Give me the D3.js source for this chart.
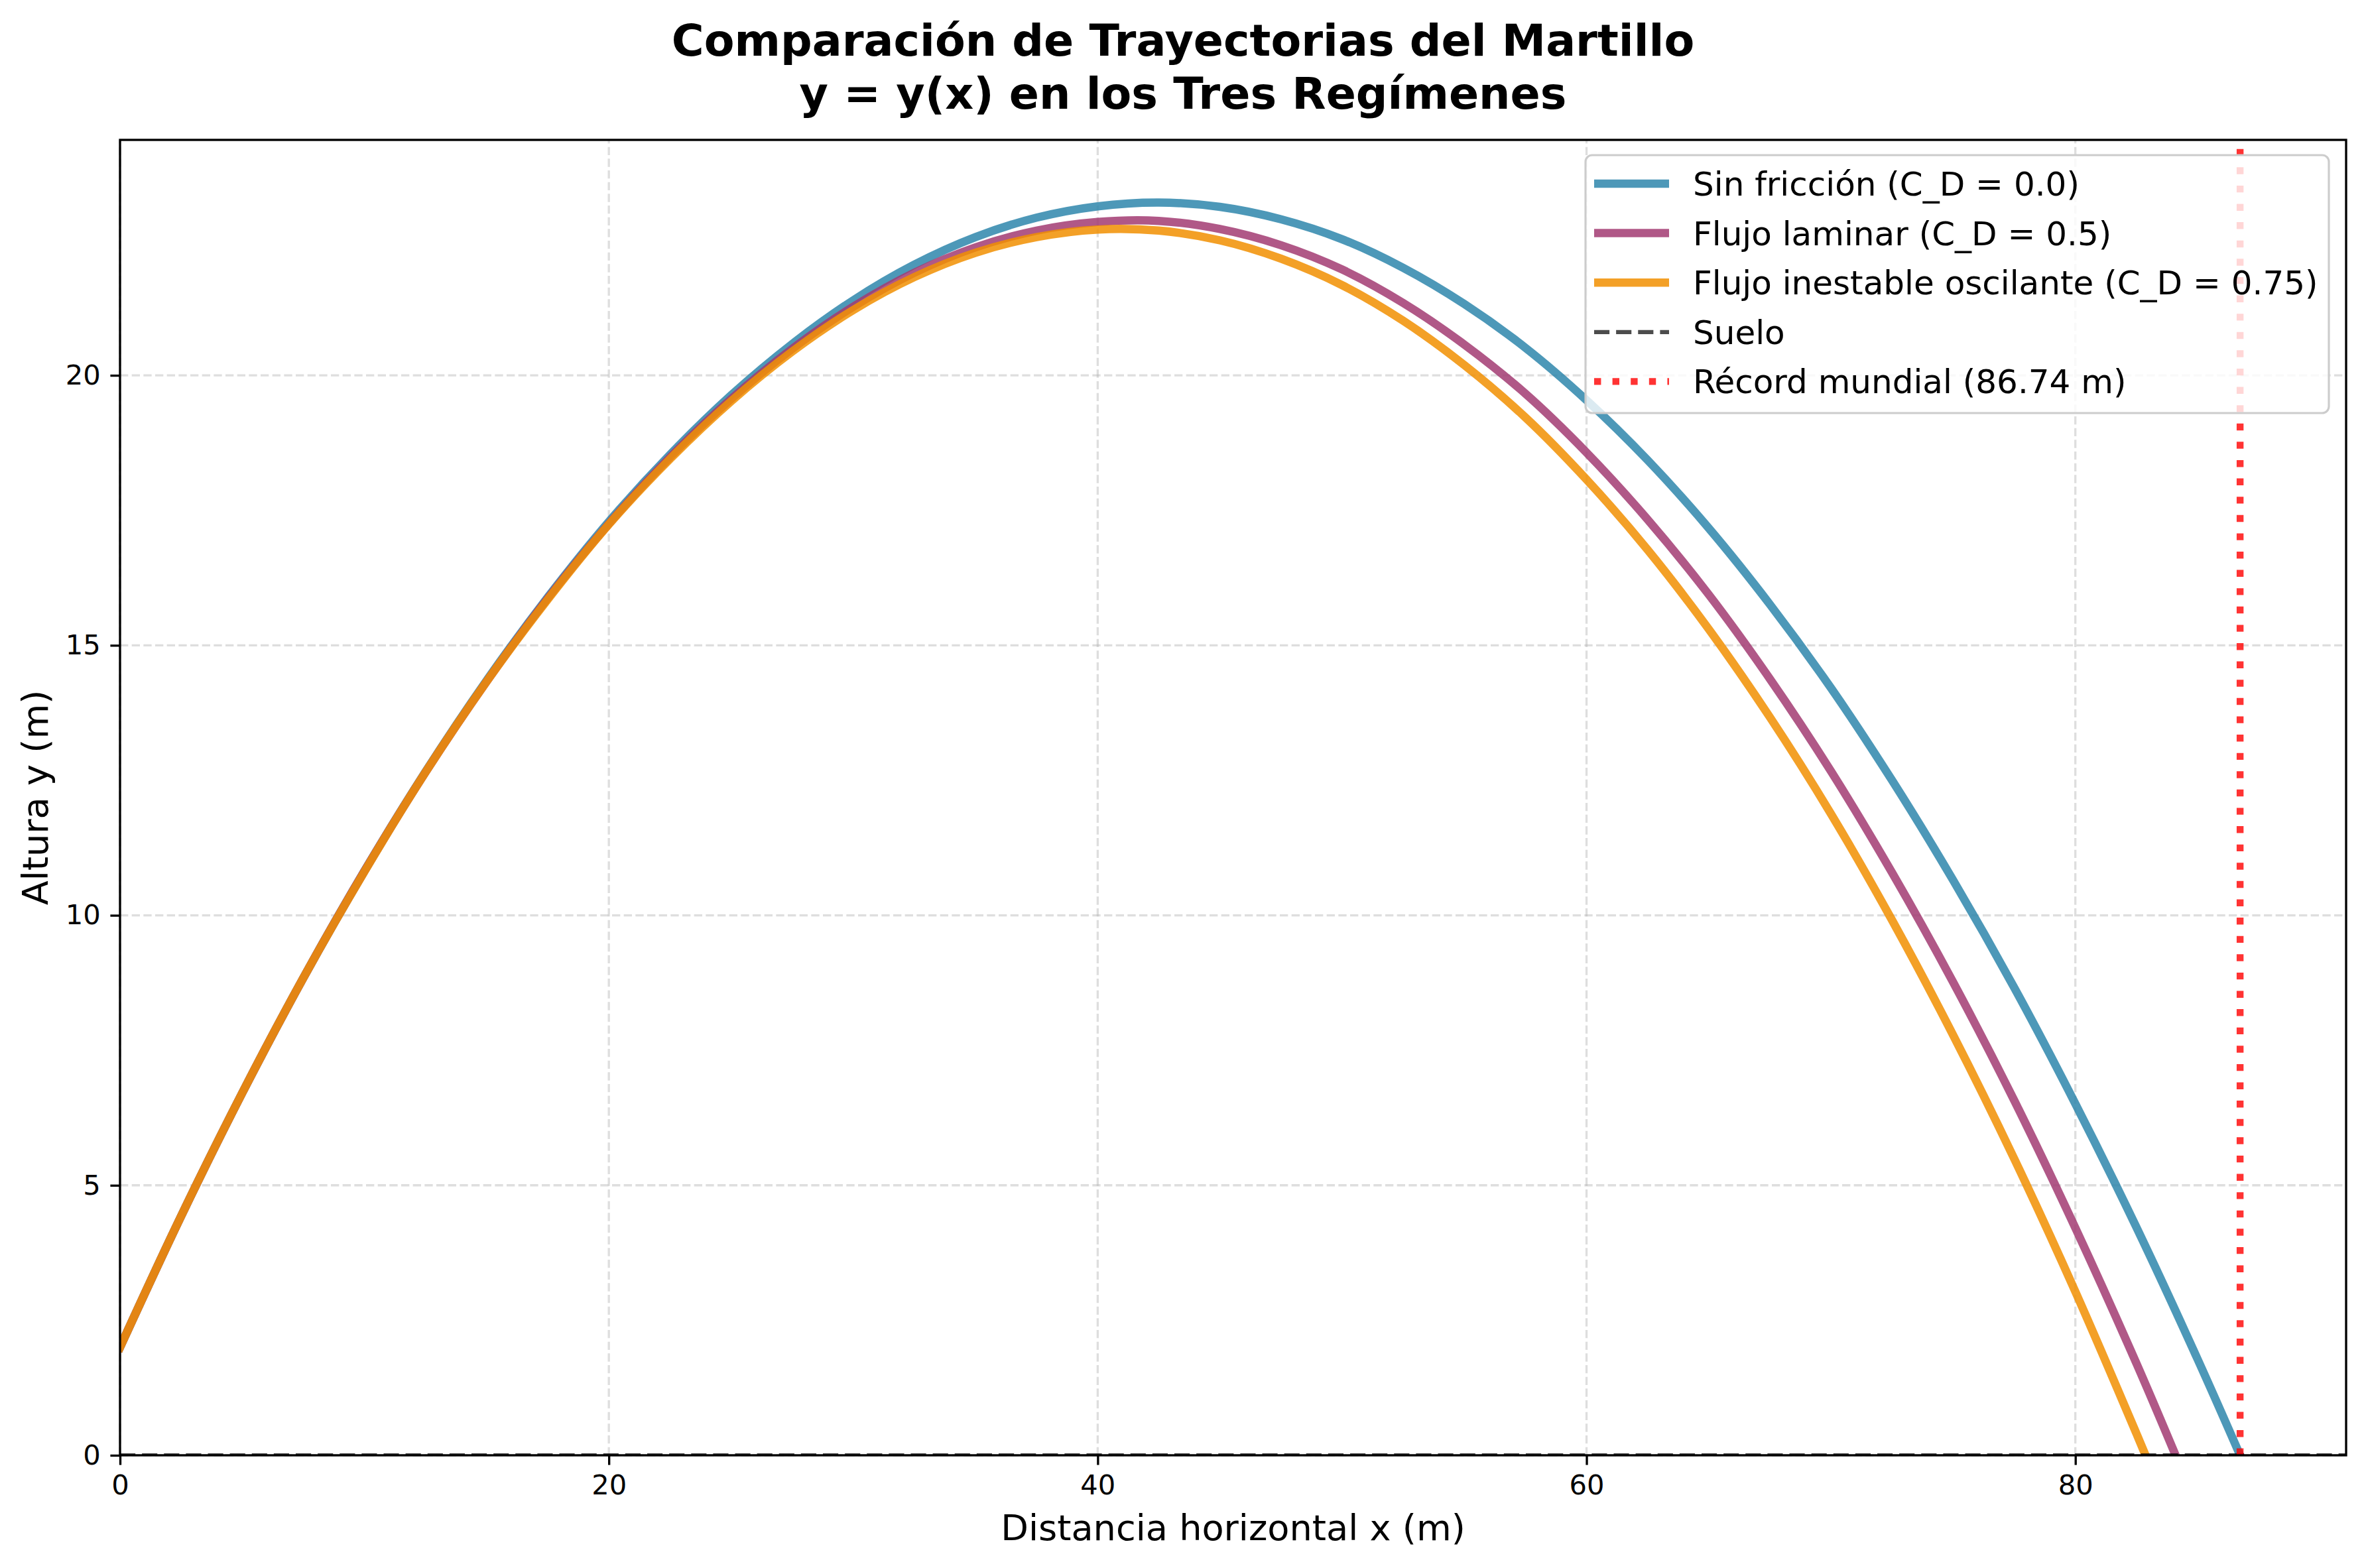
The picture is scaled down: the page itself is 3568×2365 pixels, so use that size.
<!DOCTYPE html>
<html>
<head>
<meta charset="utf-8">
<script src="https://cdn.jsdelivr.net/npm/d3@7"></script>
<style>
  body { margin: 0; background: #fff; }
  text { font-family: "DejaVu Sans", sans-serif; fill: #000; }
</style>
</head>
<body>
<svg id="chart" width="3568" height="2365"></svg>
<script>
// trajectory samples (metres)
var xSinFriccion = [0, 2.5, 5, 7.5, 10, 12.5, 15, 17.5, 20, 22.5, 25, 27.5, 30, 32.5, 35, 37.5, 40, 42.5, 45, 47.5, 50, 52.5, 55, 57.5, 60, 62.5, 65, 67.5, 70, 72.5, 75, 77.5, 80, 82.5, 85, 86.74]
var ySinFriccion = [2.00, 4.43, 6.71, 8.84, 10.82, 12.66, 14.35, 15.89, 17.29, 18.53, 19.63, 20.58, 21.39, 22.05, 22.56, 22.92, 23.13, 23.20, 23.12, 22.89, 22.52, 21.99, 21.32, 20.51, 19.54, 18.43, 17.17, 15.76, 14.21, 12.50, 10.65, 8.66, 6.51, 4.22, 1.78, 0.00]

var xLaminar = [0, 2.5, 5, 7.5, 10, 12.5, 15, 17.5, 20, 22.5, 25, 27.5, 30, 32.5, 35, 37.5, 40, 42.5, 45, 47.5, 50, 52.5, 55, 57.5, 60, 62.5, 65, 67.5, 70, 72.5, 75, 77.5, 80, 82.5, 84.1]
var yLaminar = [2.00, 4.43, 6.71, 8.84, 10.82, 12.65, 14.33, 15.87, 17.25, 18.48, 19.56, 20.49, 21.27, 21.90, 22.37, 22.68, 22.84, 22.86, 22.71, 22.41, 21.96, 21.34, 20.57, 19.66, 18.57, 17.33, 15.94, 14.38, 12.67, 10.79, 8.76, 6.57, 4.21, 1.70, 0.00]

var xOscilante = [0, 2.5, 5, 7.5, 10, 12.5, 15, 17.5, 20, 22.5, 25, 27.5, 30, 32.5, 35, 37.5, 40, 42.5, 45, 47.5, 50, 52.5, 55, 57.5, 60, 62.5, 65, 67.5, 70, 72.5, 75, 77.5, 80, 82.5, 82.87]
var yOscilante = [2.00, 4.43, 6.71, 8.84, 10.81, 12.65, 14.33, 15.85, 17.24, 18.45, 19.52, 20.44, 21.21, 21.82, 22.27, 22.56, 22.70, 22.68, 22.50, 22.16, 21.67, 21.01, 20.19, 19.22, 18.07, 16.77, 15.30, 13.67, 11.88, 9.91, 7.78, 5.49, 3.03, 0.40, 0.00]

var seriesLabels = ["Sin fricción (C_D = 0.0)", "Flujo laminar (C_D = 0.5)", "Flujo inestable oscilante (C_D = 0.75)"]
var seriesColors = ["#2E86AB", "#A23B72", "#F18F01"]
var recordMundial = 86.74
var xTicks = [0, 20, 40, 60, 80]
var yTicks = [0, 5, 10, 15, 20]

var svg = d3.select("#chart")
// plot box in pixels (window.top is read-only, so no bare "top")
var axL = 181, axR = 3538, axT = 211, axB = 2195
var pt = 300 / 72
var curveW = 3 * pt
var groundDash = (3.7 * 1.5 * pt) + "," + (1.6 * 1.5 * pt)
var recordDash = (2.5 * pt) + "," + (1.65 * 2.5 * pt)

var x = d3.scaleLinear().domain([0, recordMundial * 1.05]).range([axL, axR])
var y = d3.scaleLinear().domain([0, 23.2 * 1.05]).range([axB, axT])

svg.append("defs").append("clipPath").attr("id", "plotClip")
  .append("rect").attr("x", axL).attr("y", axT).attr("width", axR - axL).attr("height", axB - axT)

// grid
var grid = svg.append("g")
  .attr("stroke", "#b0b0b0").attr("stroke-opacity", 0.42)
  .attr("stroke-width", 0.8 * pt).attr("stroke-dasharray", (3.7 * 0.8 * pt) + "," + (1.6 * 0.8 * pt))
grid.selectAll("line.vx").data(xTicks).join("line").attr("class", "vx")
  .attr("x1", function(d) { return x(d) }).attr("x2", function(d) { return x(d) })
  .attr("y1", axB).attr("y2", axT)
grid.selectAll("line.hy").data(yTicks).join("line").attr("class", "hy")
  .attr("x1", axL).attr("x2", axR)
  .attr("y1", function(d) { return y(d) }).attr("y2", function(d) { return y(d) })

// trajectories
var plot = svg.append("g").attr("clip-path", "url(#plotClip)")
var line = d3.line()
  .x(function(d) { return x(d[0]) })
  .y(function(d) { return y(d[1]) })
  .curve(d3.curveCatmullRom.alpha(0.5))

var series = [
  d3.zip(xSinFriccion, ySinFriccion),
  d3.zip(xLaminar, yLaminar),
  d3.zip(xOscilante, yOscilante)
]
series.forEach(function(s, i) {
  plot.append("path").datum(s)
    .attr("d", line)
    .attr("fill", "none")
    .attr("stroke", seriesColors[i])
    .attr("stroke-opacity", 0.85)
    .attr("stroke-width", curveW)
    .attr("stroke-linecap", "square")
    .attr("stroke-linejoin", "round")
})

// suelo
plot.append("line")
  .attr("x1", axL).attr("x2", axR).attr("y1", y(0)).attr("y2", y(0))
  .attr("stroke", "#000").attr("stroke-opacity", 0.7)
  .attr("stroke-width", 1.5 * pt).attr("stroke-dasharray", groundDash)

// record line, drawn bottom to top so the dots start at the ground
plot.append("line")
  .attr("x1", x(recordMundial)).attr("x2", x(recordMundial)).attr("y1", axB).attr("y2", axT)
  .attr("stroke", "#FF0000").attr("stroke-opacity", 0.8)
  .attr("stroke-width", 2.5 * pt).attr("stroke-dasharray", recordDash)

// axes
var xAxis = d3.axisBottom(x).tickValues(xTicks).tickSize(3.5 * pt).tickPadding(3.5 * pt).tickFormat(d3.format("d"))
var yAxis = d3.axisLeft(y).tickValues(yTicks).tickSize(3.5 * pt).tickPadding(3.5 * pt).tickFormat(d3.format("d"))

var gx = svg.append("g").attr("transform", "translate(0," + axB + ")").call(xAxis)
var gy = svg.append("g").attr("transform", "translate(" + axL + ",0)").call(yAxis)
;[gx, gy].forEach(function(g) {
  g.select(".domain").remove()
  g.selectAll(".tick line").attr("stroke", "#000").attr("stroke-width", 0.8 * pt)
  g.selectAll(".tick text").attr("font-size", 10 * pt).attr("font-family", "DejaVu Sans").attr("fill", "#000")
})

// spines
svg.append("rect")
  .attr("x", axL).attr("y", axT).attr("width", axR - axL).attr("height", axB - axT)
  .attr("fill", "none").attr("stroke", "#000").attr("stroke-width", 0.8 * pt)

// labels
svg.append("text")
  .attr("x", (axL + axR) / 2).attr("y", 2323)
  .attr("text-anchor", "middle").attr("font-size", 13 * pt)
  .text("Distancia horizontal x (m)")
svg.append("text")
  .attr("transform", "translate(72," + ((axT + axB) / 2) + ") rotate(-90)")
  .attr("text-anchor", "middle").attr("font-size", 13 * pt)
  .text("Altura y (m)")

var title = svg.append("text").attr("text-anchor", "middle").attr("font-size", 16 * pt).attr("font-weight", "bold")
title.append("tspan").attr("x", 1784).attr("y", 84).text("Comparación de Trayectorias del Martillo")
title.append("tspan").attr("x", 1784).attr("y", 164).text("y = y(x) en los Tres Regímenes")

// legend
var legendItems = [
  { label: seriesLabels[0], color: seriesColors[0], opacity: 0.85, width: curveW, dash: null },
  { label: seriesLabels[1], color: seriesColors[1], opacity: 0.85, width: curveW, dash: null },
  { label: seriesLabels[2], color: seriesColors[2], opacity: 0.85, width: curveW, dash: null },
  { label: "Suelo", color: "#000", opacity: 0.7, width: 1.5 * pt, dash: groundDash },
  { label: "Récord mundial (" + recordMundial + " m)", color: "#FF0000", opacity: 0.8, width: 2.5 * pt, dash: recordDash }
]
var legend = svg.append("g")
legend.append("rect")
  .attr("x", 2391).attr("y", 234).attr("width", 3512 - 2391).attr("height", 623 - 234)
  .attr("rx", 10).attr("ry", 10)
  .attr("fill", "#fff").attr("fill-opacity", 0.8)
  .attr("stroke", "#cccccc").attr("stroke-width", 1 * pt * 0.75)

var rows = legend.selectAll("g.row").data(legendItems).join("g").attr("class", "row")
  .attr("transform", function(d, i) { return "translate(0," + (277 + i * 74.6) + ")" })
rows.append("line")
  .attr("x1", 2404).attr("x2", 2517).attr("y1", 0).attr("y2", 0)
  .attr("stroke", function(d) { return d.color })
  .attr("stroke-opacity", function(d) { return d.opacity })
  .attr("stroke-width", function(d) { return d.width })
  .attr("stroke-dasharray", function(d) { return d.dash })
rows.append("text")
  .attr("x", 2553).attr("y", 18)
  .attr("font-size", 12 * pt)
  .text(function(d) { return d.label })
</script>
</body>
</html>
